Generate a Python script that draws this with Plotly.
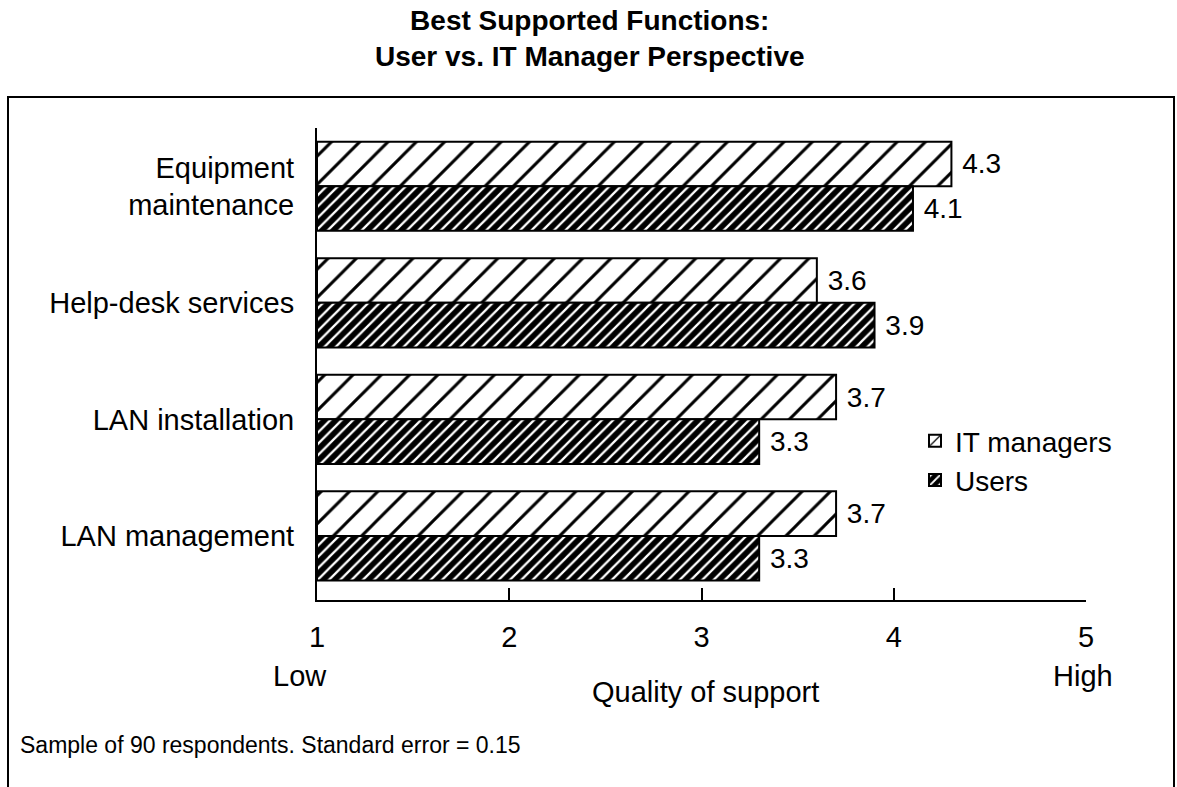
import plotly.graph_objects as go

categories = ["Equipment<br>maintenance", "Help-desk services", "LAN installation", "LAN management"]
it_managers = [4.3, 3.6, 3.7, 3.7]
users = [4.1, 3.9, 3.3, 3.3]
x_ticks = [1, 2, 3, 4, 5]

W, H = 1177, 787
L, R, T, B = 317, 1177 - 1086, 128, 787 - 600
pw, ph = W - L - R, H - T - B

def px(x):
    return (x - L) / pw

def py(y):
    return (H - B - y) / ph

FONT = "Liberation Sans, Arial, Helvetica, sans-serif"

fig = go.Figure()
fig.add_trace(go.Bar(
    name="IT managers", y=categories, x=[v - 1 for v in it_managers], base=1,
    orientation="h", text=[f"{v:.1f}" for v in it_managers], texttemplate="\u00a0%{text}",
    textposition="outside", textfont=dict(size=28, color="black", family=FONT), cliponaxis=False,
    marker=dict(color="white", line=dict(color="black", width=2),
                pattern=dict(shape="/", fillmode="replace", bgcolor="white", fgcolor="black",
                             size=20, solidity=0.15)),
))
fig.add_trace(go.Bar(
    name="Users", y=categories, x=[v - 1 for v in users], base=1,
    orientation="h", text=[f"{v:.1f}" for v in users], texttemplate="\u00a0%{text}",
    textposition="outside", textfont=dict(size=28, color="black", family=FONT), cliponaxis=False,
    marker=dict(color="black", line=dict(color="black", width=2),
                pattern=dict(shape="/", fillmode="replace", bgcolor="black", fgcolor="white",
                             size=8, solidity=0.28)),
))

fig.update_layout(
    width=W, height=H, margin=dict(l=L, r=R, t=T, b=B),
    paper_bgcolor="white", plot_bgcolor="white",
    barmode="group", bargap=0.235, bargroupgap=0,
    font=dict(family=FONT, size=28, color="black"),
    legend=dict(x=px(915), y=py(416), xanchor="left", yanchor="top",
                font=dict(size=28, color="black"), bgcolor="rgba(0,0,0,0)"),
    showlegend=True,
)
fig.update_xaxes(range=[1, 5], tickvals=x_ticks, ticktext=[str(t) for t in x_ticks],
                 showgrid=False, zeroline=False, showline=True, linecolor="black", linewidth=2,
                 ticks="inside", ticklen=12, tickwidth=2, tickcolor="black",
                 ticklabelstandoff=10, tickfont=dict(size=29, color="black", family=FONT))
fig.update_yaxes(range=[3.55, -0.5], showgrid=False, zeroline=False, showline=True,
                 linecolor="black", linewidth=2, ticks="", ticklabelstandoff=15,
                 tickfont=dict(size=29, color="black", family=FONT))

# frame
fig.add_shape(type="rect", xref="paper", yref="paper", x0=px(8), x1=px(1174), y0=py(830), y1=py(97),
              line=dict(color="black", width=2), fillcolor="rgba(0,0,0,0)", layer="below")

def note(text, x, y, size, xanchor="center", bold=False):
    fig.add_annotation(text=f"<b>{text}</b>" if bold else text, xref="paper", yref="paper",
                       x=px(x), y=py(y), xanchor=xanchor, yanchor="middle", showarrow=False,
                       font=dict(size=size, color="black", family=FONT))

note("Best Supported Functions:<br>User vs. IT Manager Perspective", 590, 39, 28, bold=True)
note("Low", 300, 676, 29)
note("High", 1083, 676, 29)
note("Quality of support", 705, 692, 29)
note("Sample of 90 respondents. Standard error = 0.15", 18, 745, 23, xanchor="left")

fig.write_html("out.html", post_script="document.body.style.margin='0';",
               config={"displayModeBar": False})
